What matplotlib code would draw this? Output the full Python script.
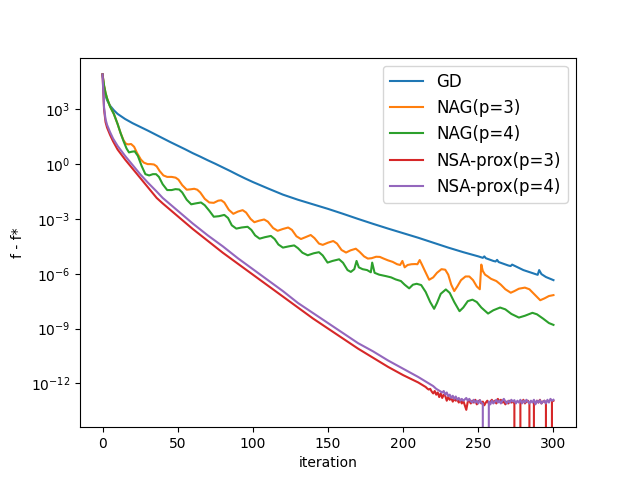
import numpy as np
import matplotlib
matplotlib.use("Agg")
import matplotlib.pyplot as plt

NEG0 = -np.inf  # marks an exact zero (f - f* == 0)

series_names = ["GD", "NAG(p=3)", "NAG(p=4)", "NSA-prox(p=3)", "NSA-prox(p=4)"]

gd_iter = [0, 0.5, 1, 2, 3, 5, 7.5, 10, 15, 20, 25, 30, 35, 40, 45, 50, 55, 60, 65, 70,
           75, 80, 85, 90, 95, 100, 110, 120, 130, 140, 150, 160, 170, 180, 190, 200,
           210, 220, 230, 240, 250, 253, 254, 255, 260, 261.5, 262.5, 263.5, 270,
           271.5, 272.5, 280, 289.5, 290.5, 292, 295, 300]
gd_log = [4.91, 4.5, 4.2, 3.75, 3.5, 3.2, 2.95, 2.75, 2.47, 2.24, 2.04, 1.84, 1.63, 1.42,
          1.21, 1.01, 0.81, 0.6, 0.41, 0.21, 0.02, -0.18, -0.38, -0.59, -0.79, -0.98,
          -1.33, -1.67, -1.95, -2.2, -2.45, -2.72, -3.0, -3.27, -3.53, -3.78, -4.03,
          -4.3, -4.57, -4.82, -5.05, -5.13, -5.05, -5.15, -5.3, -5.33, -5.24, -5.36,
          -5.55, -5.58, -5.5, -5.8, -6.06, -5.8, -6.02, -6.18, -6.35]

nag3_iter = [0, 1, 2, 3, 5, 7.5, 10, 12, 14, 15.5, 17, 19, 21, 23, 25.5, 27.5, 30, 32,
             34.2, 36, 38, 40.5, 43, 46, 48.6, 50.5, 53, 56, 58.5, 61, 63, 65, 68, 71,
             74, 77, 79, 81, 84, 87, 90, 93.2, 95.5, 98.5, 101, 104, 107.5, 110, 113.5,
             116.5, 120, 123.5, 126, 129, 132, 135, 138.5, 141, 144, 146.5, 150, 153.5,
             156, 159, 162, 165, 168.5, 171, 174, 176.5, 179, 182, 184.5, 187, 190, 193,
             196, 198, 199.5, 201, 203, 205.5, 208, 209.5, 211, 212.5, 214.5, 217.3, 220,
             222.5, 225.5, 228, 230, 232, 234, 236, 238.5, 241.5, 244, 246.5, 249, 251,
             252, 253, 254.5, 256, 258.5, 262, 265, 268, 271.6, 274, 277, 281, 284, 287,
             291.2, 294, 297, 300]
nag3_log = [4.91, 4.3, 3.9, 3.6, 3.15, 2.75, 2.2, 1.7, 1.3, 1.12, 1.08, 1.1, 0.95, 0.6,
            0.25, 0.08, 0.0, 0.0, -0.02, -0.12, -0.38, -0.62, -0.7, -0.7, -0.74, -0.85,
            -1.15, -1.4, -1.38, -1.35, -1.4, -1.55, -1.9, -2.1, -2.12, -2.0, -1.98, -2.1,
            -2.5, -2.72, -2.6, -2.52, -2.65, -3.0, -3.18, -3.1, -3.03, -3.15, -3.5, -3.65,
            -3.55, -3.47, -3.6, -3.95, -4.1, -4.0, -3.88, -4.05, -4.35, -4.42, -4.3, -4.21,
            -4.35, -4.7, -4.84, -4.72, -4.63, -4.8, -5.05, -5.17, -5.15, -5.07, -5.08,
            -5.17, -5.27, -5.35, -5.48, -5.52, -5.3, -5.65, -5.52, -5.48, -5.47, -5.48,
            -5.25, -5.5, -5.85, -6.33, -6.2, -5.95, -5.75, -5.78, -6.05, -6.6, -6.95, -6.7,
            -6.35, -6.15, -6.15, -6.35, -6.7, -6.85, -5.5, -5.85, -6.05, -6.13, -6.28,
            -6.4, -6.6, -6.85, -7.04, -6.95, -6.82, -6.76, -6.85, -7.1, -7.45, -7.35,
            -7.22, -7.17]

nag4_iter = [0, 1, 2, 3, 5, 7.5, 10, 12, 14, 16, 17.6, 19.5, 21.4, 23.5, 26, 28.5, 31,
             33.5, 35.6, 37.5, 40, 43, 46, 48.5, 51, 53, 56, 59, 62, 65.5, 68, 71, 74,
             77.5, 81, 83.5, 86, 89, 92.5, 96.5, 99, 101.5, 104.5, 108, 112, 114.5, 117,
             120, 124, 127.5, 130, 133, 136.5, 140.5, 144, 146.5, 149.7, 153, 157.4, 160,
             163, 165.2, 167.5, 169, 170.5, 173, 176, 178.5, 179.4, 181, 184, 188.5, 192,
             195, 198.5, 201, 204, 206.5, 209, 212, 215, 218, 220.6, 222.5, 225, 228.4,
             231, 234, 237.5, 240, 243, 246.1, 249, 252, 256.5, 260, 264.5, 268, 272, 277,
             281, 286, 289, 293, 297, 300]
nag4_log = [4.91, 4.3, 3.9, 3.6, 3.15, 2.75, 2.2, 1.7, 1.25, 0.85, 0.64, 0.68, 0.7, 0.45,
            -0.1, -0.55, -0.62, -0.55, -0.55, -0.7, -1.1, -1.42, -1.42, -1.37, -1.39,
            -1.55, -1.95, -2.2, -2.15, -2.1, -2.25, -2.55, -2.88, -2.85, -2.78, -2.95,
            -3.35, -3.53, -3.47, -3.43, -3.6, -3.9, -4.08, -4.0, -3.93, -4.1, -4.4, -4.57,
            -4.5, -4.45, -4.6, -4.85, -4.99, -4.88, -4.82, -5.0, -5.39, -5.3, -5.21, -5.4,
            -5.8, -5.9, -5.75, -5.3, -5.65, -5.75, -5.8, -5.92, -5.39, -5.95, -6.05,
            -6.13, -6.2, -6.31, -6.4, -6.6, -6.8, -6.6, -6.55, -6.62, -7.0, -7.55, -7.92,
            -7.6, -7.1, -6.86, -7.05, -7.55, -8.05, -7.85, -7.5, -7.42, -7.55, -7.85,
            -8.18, -8.0, -7.85, -7.95, -8.2, -8.4, -8.3, -8.14, -8.22, -8.45, -8.7, -8.8]

nsa3_iter = [0, 1, 2, 3, 5, 7, 10, 15, 20, 25, 30, 36, 40, 50, 60, 70, 80, 90, 100, 110,
             120, 130, 140, 150, 160, 170, 180, 190, 200, 210] + list(range(214, 301))
nsa3_log = [4.91, 3.0, 2.3, 2.0, 1.6, 1.25, 0.8, 0.25, -0.25, -0.75, -1.25, -1.85, -2.15,
            -2.85, -3.55, -4.2, -4.85, -5.45, -6.05, -6.65, -7.25, -7.85, -8.45, -9.0,
            -9.55, -10.1, -10.6, -11.1, -11.55, -11.95,
            # iterations 214 .. 300
            -12.15, -12.2, -12.28, -12.34, -12.3, -12.45, -12.55, -12.42, -12.62, -12.5,
            -12.75, -12.55, -12.8, -12.62, -12.68, -12.95, -12.75, -12.9, -12.8, -13.0,
            -12.85, -12.95, -12.88, -13.05, -12.9, -13.1, -12.95, -13.2, -13.45, -13.0,
            -12.95, -13.1, -12.95, -13.05, -12.9, -13.15, -13.0, -12.92, -13.1, -13.0,
            -13.2, -13.05, -12.95, -13.1, -13.0, -12.9, -13.05, -12.95, -13.1, -12.85,
            -13.0, -12.9, -13.05, -13.0, -13.15, -13.0, -13.1, -12.95, -13.05, -13.0,
            -13.1, NEG0, NEG0, NEG0, -12.95, -13.05, -12.9, -13.1, -13.0, -12.95, -13.1,
            NEG0, NEG0, -13.0, -13.1, -12.95, -13.05, -12.9, -13.1, -13.0, -12.95, -13.1,
            NEG0, NEG0, NEG0, -13.0, -12.95]

nsa4_iter = [0, 1, 2, 3, 5, 7, 10, 15, 20, 25, 30, 36, 40, 50, 60, 70, 80, 90, 100, 110,
             120, 130, 140, 150, 160, 170, 180, 190, 200, 210, 220, 222] + list(range(224, 301))
nsa4_log = [4.91, 3.1, 2.45, 2.15, 1.75, 1.4, 1.0, 0.45, -0.05, -0.55, -1.0, -1.5, -1.85,
            -2.55, -3.25, -3.9, -4.5, -5.15, -5.75, -6.35, -6.95, -7.6, -8.15, -8.7,
            -9.25, -9.8, -10.25, -10.75, -11.2, -11.65, -12.15, -12.3,
            # iterations 224 .. 300
            -12.4, -12.45, -12.5, -12.42, -12.62, -12.5, -12.7, -12.62, -12.8, -12.68,
            -12.85, -12.72, -12.9, -12.8, -12.95, -12.85, -12.95, -12.88, -12.8, -12.95,
            -12.85, -12.98, -13.05, -12.9, -13.05, -12.95, -13.1, -12.92, -13.05, -13.12,
            NEG0, NEG0, NEG0, -13.0, -13.15, -12.95, -13.1, -13.0, -12.9, -13.05, -12.95,
            -13.1, -12.95, -12.85, -13.0, -13.1, -12.95, -13.05, -12.9, -13.0, -12.92,
            -13.1, -12.95, -13.05, -12.9, -13.1, -12.95, -13.05, -12.9, -13.0, -13.1,
            -12.95, -13.05, -12.9, -13.15, -12.95, -13.05, -12.92, -13.1, -13.0, -12.95,
            -13.1, -12.9, -13.05, -12.85, -12.95, -12.9]

series = [(gd_iter, gd_log), (nag3_iter, nag3_log), (nag4_iter, nag4_log),
          (nsa3_iter, nsa3_log), (nsa4_iter, nsa4_log)]

fig, ax = plt.subplots(figsize=(6.4, 4.8), dpi=100)
for name, (it, lg) in zip(series_names, series):
    ax.plot(it, 10.0 ** np.asarray(lg, dtype=float), label=name)
ax.set_yscale("log")
ax.set_ylim(10 ** -14.40, 10 ** 5.83)
ax.set_xlabel("iteration")
ax.set_ylabel("f - f*")
ax.legend(loc="upper right", fontsize=12)
fig.savefig("out.png", dpi=100)
